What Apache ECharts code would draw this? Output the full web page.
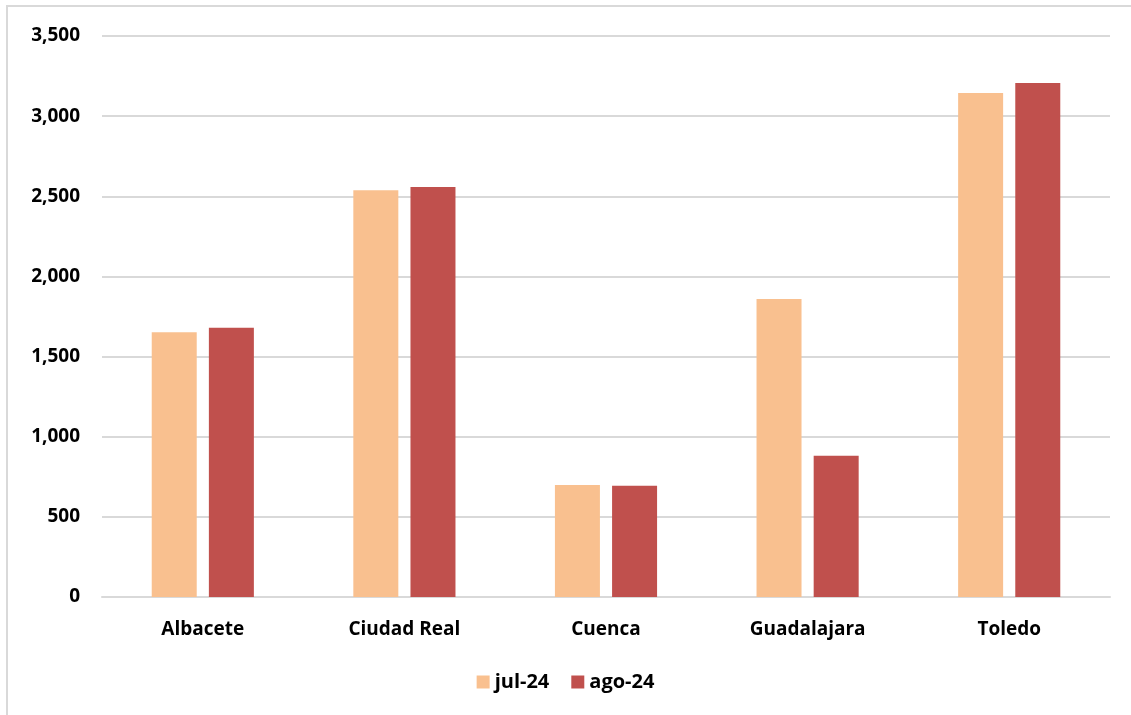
<!DOCTYPE html>
<html>
<head>
<meta charset="utf-8">
<script src="https://cdn.jsdelivr.net/npm/echarts@6/dist/echarts.min.js"></script>
<style>
html,body{margin:0;padding:0;background:#fff;}
#chart{width:1131px;height:715px;}
</style>
</head>
<body>
<div id="chart"></div>
<script>
const categories = ['Albacete', 'Ciudad Real', 'Cuenca', 'Guadalajara', 'Toledo'];
const seriesNames = ['jul-24', 'ago-24'];
const jul24 = [1651, 2537, 699, 1859, 3144];
const ago24 = [1680, 2558, 694, 881, 3207];
const colors = ['#F9C08F', '#C0504D'];

const chart = echarts.init(document.getElementById('chart'));
const font = '"Open Sans", "Liberation Sans", sans-serif';
chart.setOption({
  animation: false,
  backgroundColor: '#fff',
  graphic: [{
    type: 'polyline',
    shape: { points: [[7, 715], [7, 6], [1131, 6]] },
    style: { stroke: '#d9d9d9', lineWidth: 2, fill: null },
    silent: true
  }],
  grid: { left: 102, right: 21, top: 36, bottom: 118 },
  legend: {
    data: seriesNames,
    bottom: 18,
    left: 'center',
    itemWidth: 13,
    itemHeight: 13,
    itemGap: 22,
    icon: 'rect',
    textStyle: { fontFamily: font, fontWeight: 'bold', fontSize: 20, color: '#000' }
  },
  xAxis: {
    type: 'category',
    data: categories,
    axisLine: { lineStyle: { color: '#d9d9d9', width: 2 } },
    axisTick: { show: false },
    axisLabel: { fontFamily: font, fontWeight: 'bold', fontSize: 19, color: '#000', margin: 23 }
  },
  yAxis: {
    type: 'value',
    min: 0, max: 3500, interval: 500,
    axisLine: { show: false },
    axisTick: { show: false },
    splitLine: { lineStyle: { color: '#d9d9d9', width: 2 } },
    axisLabel: {
      fontFamily: font, fontWeight: 'bold', fontSize: 19, color: '#000', margin: 22,
      formatter: v => v.toLocaleString('en-US')
    }
  },
  series: [
    { name: seriesNames[0], type: 'bar', data: jul24, itemStyle: { color: colors[0] }, barWidth: 45, barGap: '27%' },
    { name: seriesNames[1], type: 'bar', data: ago24, itemStyle: { color: colors[1] }, barWidth: 45, barGap: '27%' }
  ]
});
</script>
</body>
</html>
